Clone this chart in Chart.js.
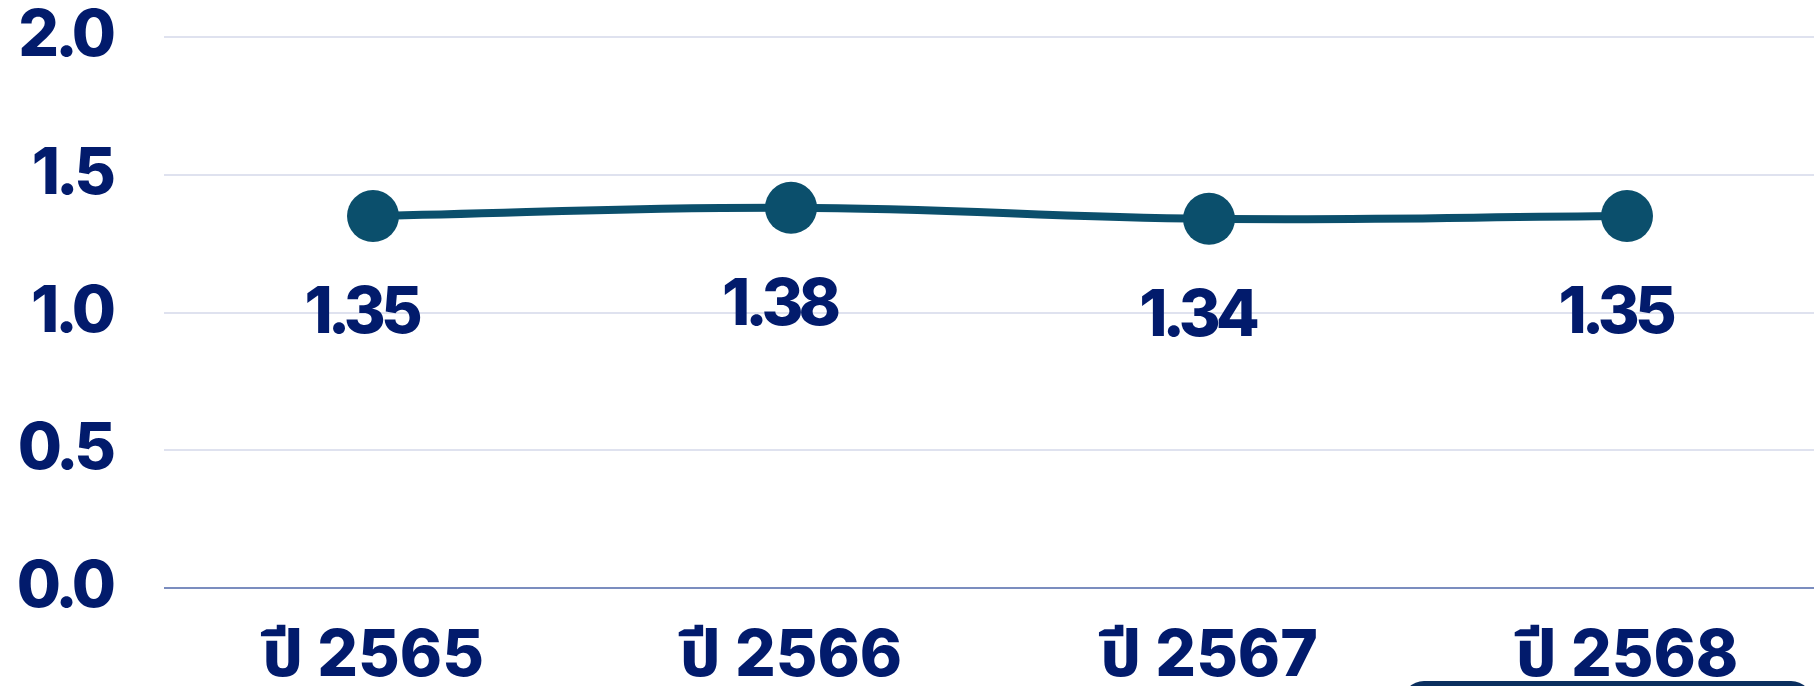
<!DOCTYPE html>
<html>
<head>
<meta charset="utf-8">
<script src="https://cdn.jsdelivr.net/npm/chart.js@4"></script>
<style>
  html, body { margin: 0; padding: 0; background: #fff; overflow: hidden; }
  #ratio { position: absolute; left: 0; top: 0; }
  #tab { position: absolute; left: 1402px; top: 681px; width: 411px; height: 40px;
         background: #0b2f5f; border-radius: 22px 22px 0 0; }
</style>
</head>
<body>
<canvas id="ratio" width="1836" height="686"></canvas>
<div id="tab"></div>
<script>
let years = ["ปี 2565", "ปี 2566", "ปี 2567", "ปี 2568"];
let ratioValues = [1.35, 1.38, 1.34, 1.35];
let yTicks = [0, 0.5, 1.0, 1.5, 2.0];

let navy = '#021b6c';
let lineColor = '#0b4f6c';
let fontFamily = "Inter, 'Noto Sans Thai', 'Noto Sans', sans-serif";

// values under each point, then tighter spacing for the y ticks (drawn after, z: 1)
let valueLabels = {
    id: 'valueLabels',
    afterDatasetsDraw(chart) {
        let ctx = chart.ctx;
        let meta = chart.getDatasetMeta(0);
        ctx.save();
        ctx.font = '800 64px ' + fontFamily;
        ctx.letterSpacing = '-5px';
        ctx.fillStyle = navy;
        ctx.textAlign = 'center';
        ctx.textBaseline = 'alphabetic';
        meta.data.forEach(function(pt, i) {
            ctx.fillText(ratioValues[i].toFixed(2), pt.x - 12, pt.y + 117);
        });
        ctx.restore();
        ctx.letterSpacing = '-4px';
    },
    afterDraw(chart) {
        chart.ctx.letterSpacing = '0px';
    }
};

let ratioCanva = document.getElementById('ratio');
let ratioChart = new Chart(ratioCanva, {
    type: 'line',
    data: {
        labels: years,
        datasets: [{
            data: ratioValues,
            borderColor: lineColor,
            backgroundColor: lineColor,
            borderWidth: 8,
            tension: 0.4,
            pointRadius: 26,
            pointHoverRadius: 26,
            pointBackgroundColor: lineColor,
            pointBorderWidth: 0,
            clip: false
        }]
    },
    options: {
        responsive: false,
        animation: false,
        layout: { autoPadding: false, padding: { top: 37, left: 0, right: 0, bottom: 0 } },
        plugins: {
            legend: { display: false },
            tooltip: { enabled: false }
        },
        scales: {
            x: {
                offset: true,
                grid: { display: false },
                border: { display: false },
                ticks: {
                    color: navy,
                    padding: 22,
                    font: { family: fontFamily, size: 64, weight: '800' }
                },
                afterFit: function(scale) { scale.height = 98; }
            },
            y: {
                min: 0,
                max: 2,
                afterBuildTicks: function(scale) {
                    scale.ticks = yTicks.map(function(v) { return { value: v }; });
                },
                grid: {
                    color: function(c) { return c.tick.value === 0 ? '#7b8dbf' : '#dfe2ef'; },
                    lineWidth: 2,
                    drawTicks: false,
                    z: 0
                },
                border: { display: false },
                ticks: {
                    z: 1,
                    color: navy,
                    padding: 52,
                    font: { family: fontFamily, size: 64, weight: '800' },
                    callback: function(v) { return Number(v).toFixed(1); }
                },
                afterFit: function(scale) {
                    scale.width = 164;
                    scale.paddingTop = 0;
                    scale.paddingBottom = 0;
                }
            }
        }
    },
    plugins: [valueLabels]
});
</script>
</body>
</html>
